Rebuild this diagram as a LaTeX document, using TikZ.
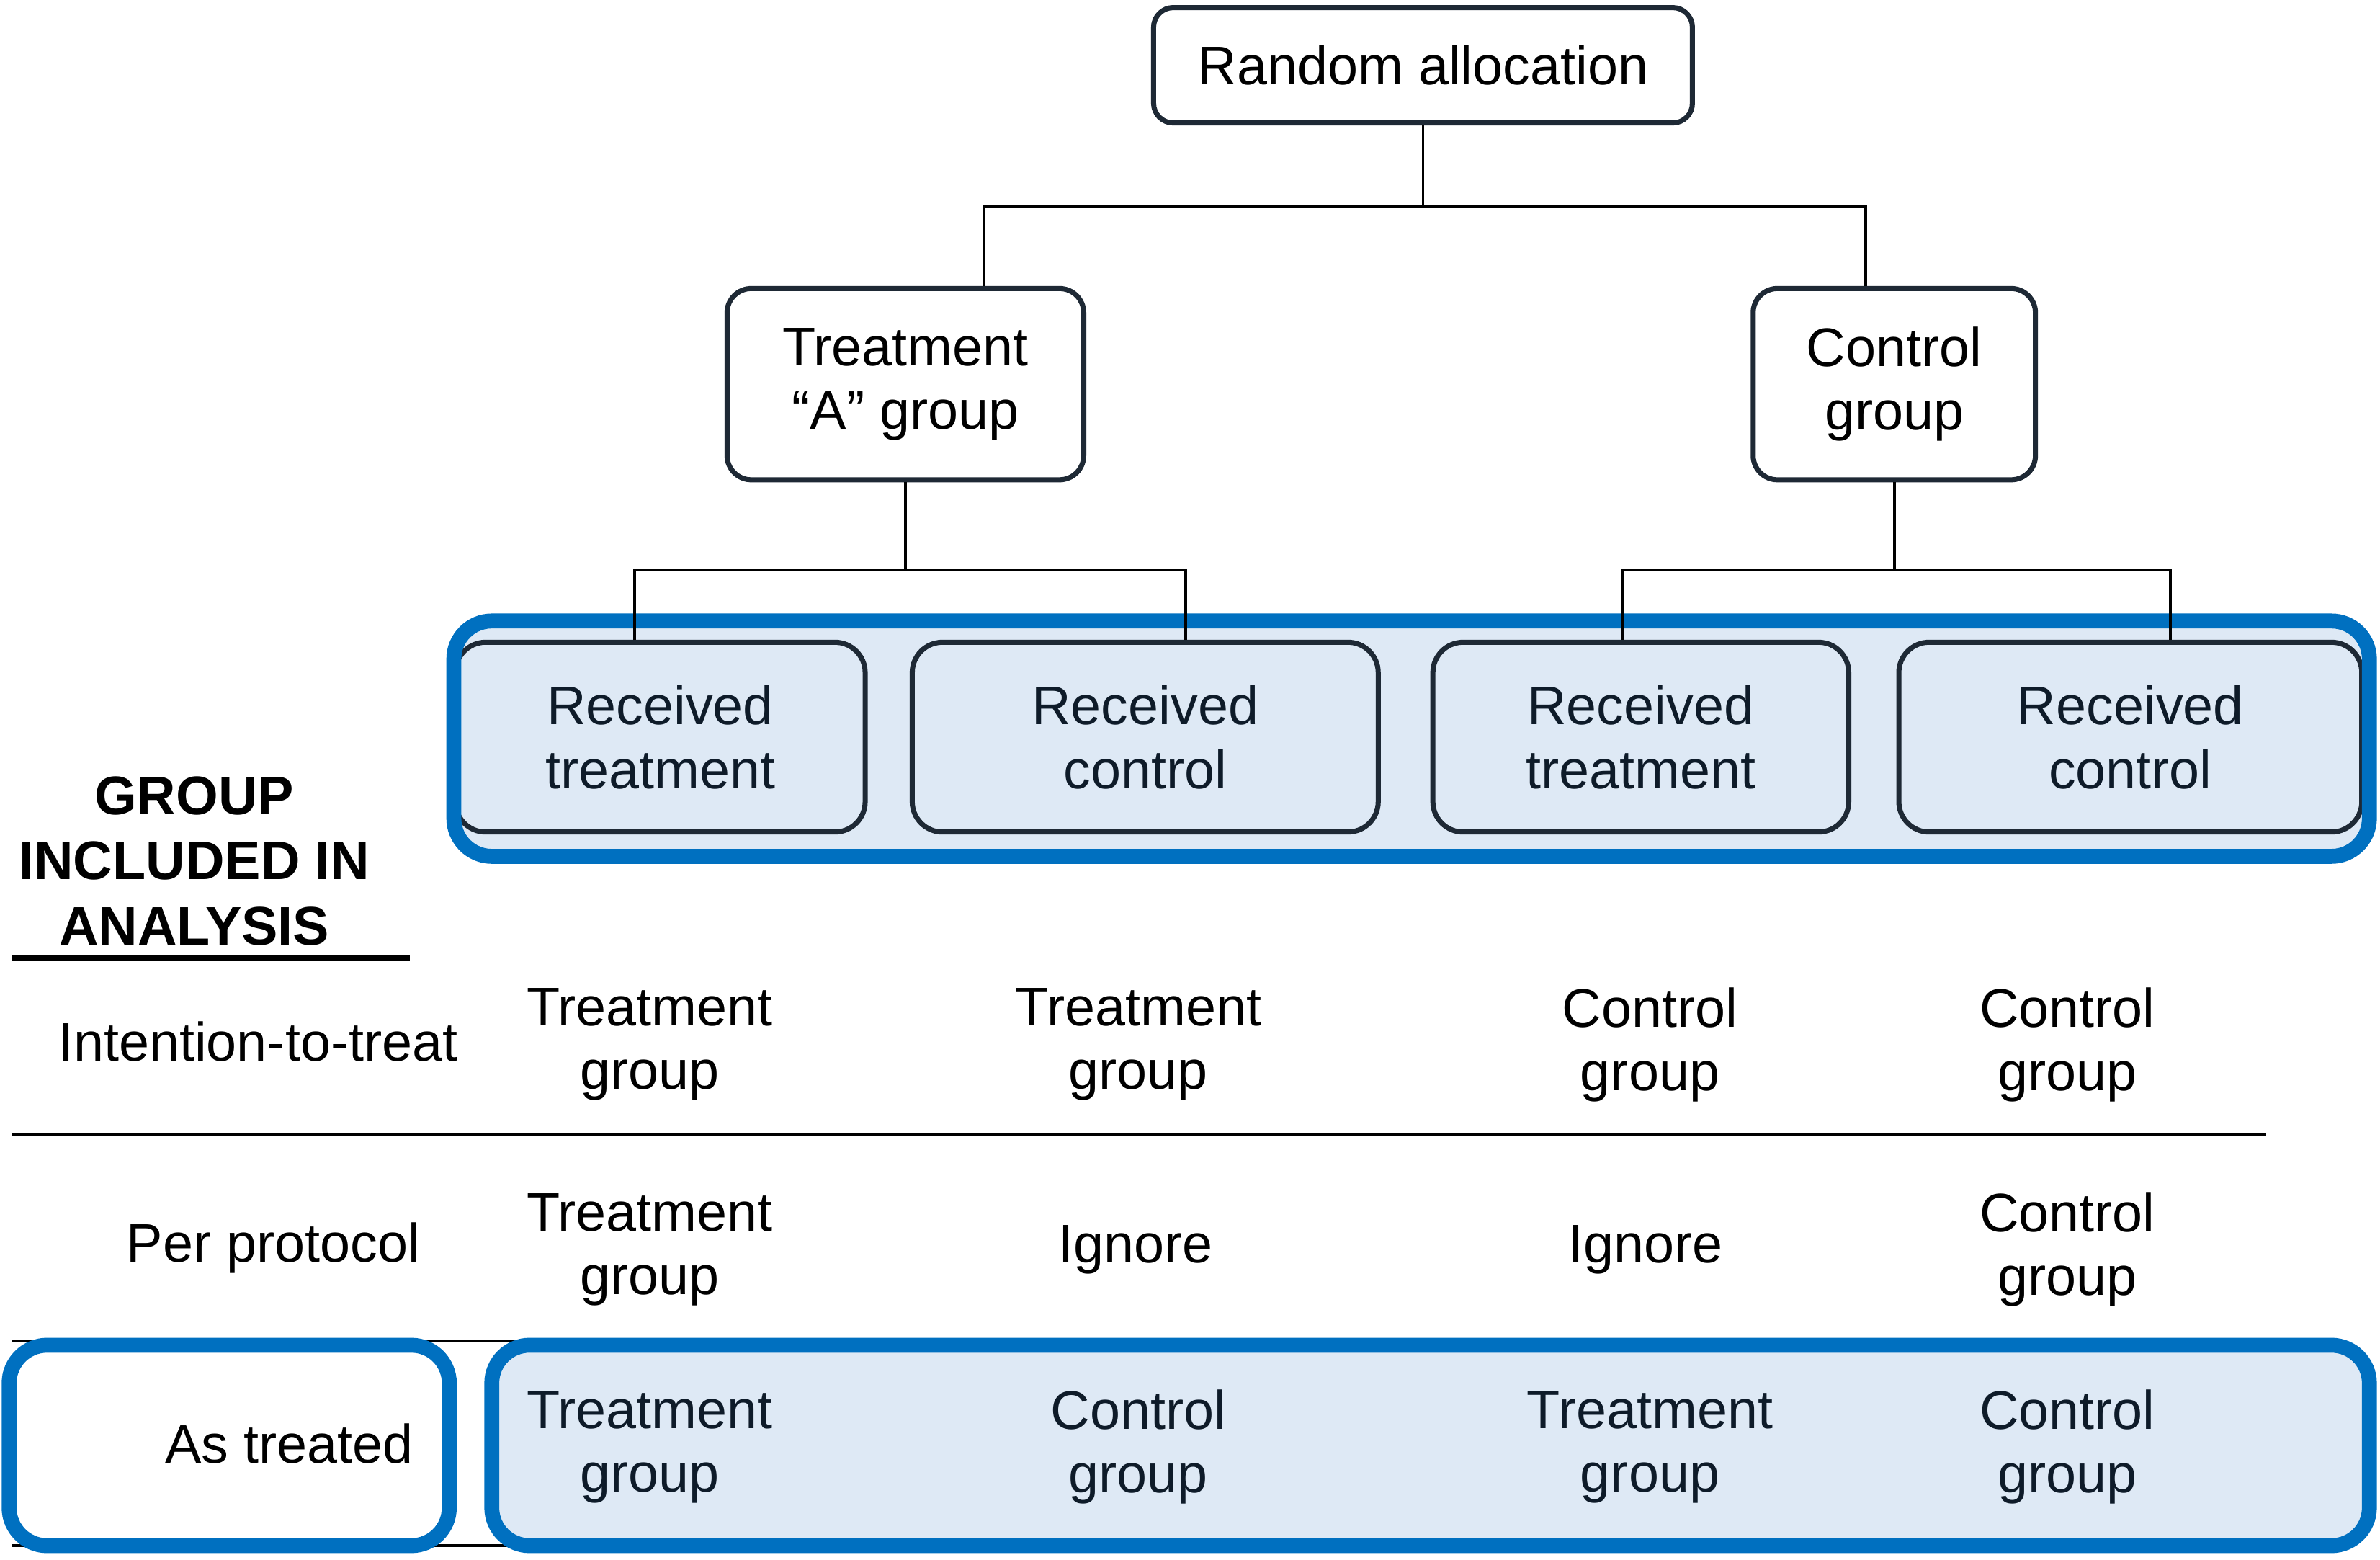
\documentclass[tikz,border=0pt]{standalone}
\usepackage{fontspec}
\setmainfont{Liberation Sans}
\usetikzlibrary{calc}
\definecolor{allocblue}{HTML}{0070C0}
\definecolor{allocfill}{HTML}{DEE9F5}
\definecolor{boxline}{HTML}{1E2935}
\definecolor{boxtext}{HTML}{0E1B29}
\tikzset{
  txt/.style={font=\fontsize{10.2}{11.9}\selectfont, align=center, inner sep=0pt},
  box/.style={txt, draw=boxline, line width=0.95pt, rounded corners=0.13cm},
  recbox/.style={box, rounded corners=0.2cm, minimum height=1.25cm, text=boxtext},
  link/.style={line width=0.5pt},
  bluebox/.style={draw=allocblue, line width=2.8pt, rounded corners=0.25cm},
  rule/.style={line width=0.5pt}
}
\begin{document}
\begin{tikzpicture}[x=0.1mm, y=-0.1mm]
\useasboundingbox (0,0) rectangle (1568,1027);
% table rules
\draw[rule] (8,747) -- (1493,747);
\draw[rule] (8,883) -- (1493,883);
\draw[rule] (8,1018) -- (1493,1018);
% blue backgrounds
\fill[allocfill, rounded corners=0.25cm] (299,409) rectangle (1561,564);
\fill[allocfill, rounded corners=0.25cm] (324,886) rectangle (1561,1018);
\fill[white, rounded corners=0.25cm] (6,886) rectangle (296,1018);
% tree
\node[box, minimum width=3.55cm, minimum height=0.76cm] (rand) at (937.5,43) {Random allocation};
\node[box, rounded corners=0.16cm, minimum width=2.35cm, minimum height=1.26cm] (trtA) at (596.5,253) {Treatment\\“A” group};
\node[box, rounded corners=0.16cm, minimum width=1.86cm, minimum height=1.26cm] (ctrl) at (1248,253) {Control\\group};
\node[recbox, minimum width=2.70cm] (rt1) at (435,485.5) {Received\\treatment};
\node[recbox, minimum width=3.07cm] (rc1) at (754.5,485.5) {Received\\control};
\node[recbox, minimum width=2.74cm] (rt2) at (1081,485.5) {Received\\treatment};
\node[recbox, minimum width=3.05cm] (rc2) at (1403.5,485.5) {Received\\control};
% blue frames
\draw[bluebox] (299,409) rectangle (1561,564);
\draw[bluebox] (324,886) rectangle (1561,1018);
\draw[bluebox] (6,886) rectangle (296,1018);
% connectors
\draw[link] (rand.south) -- ++(0,53) -| ($(trtA.north)+(51.5,0)$);
\draw[link] (rand.south) -- ++(0,53) -| ($(ctrl.north)+(-19,0)$);
\draw[link] (trtA.south) -- ++(0,58) -| ($(rt1.north)+(-17,0)$);
\draw[link] (trtA.south) -- ++(0,58) -| ($(rc1.north)+(26.5,0)$);
\draw[link] (ctrl.south) -- ++(0,58) -| ($(rt2.north)+(-12,0)$);
\draw[link] (ctrl.south) -- ++(0,58) -| ($(rc2.north)+(26.5,0)$);
% heading
\node[txt, font=\fontsize{10.2}{12.2}\selectfont\bfseries] (head) at (128,567) {GROUP\\INCLUDED IN\\ANALYSIS};
\draw[line width=1.1pt] (8,631) -- (270,631);
% row labels
\node[txt] (itt) at (170,686) {Intention-to-treat};
\node[txt] (pp) at (180,822) {Per protocol};
\node[txt, anchor=east] (at) at (273,951) {As treated};
% intention-to-treat row
\node[txt] (itt1) at (428,688) {Treatment\\group};
\node[txt] (itt2) at (750,688) {Treatment\\group};
\node[txt] (itt3) at (1087,688) {Control\\group};
\node[txt] (itt4) at (1362,688) {Control\\group};
% per protocol row
\node[txt] (pp1) at (428,823) {Treatment\\group};
\node[txt] (pp2) at (748,823) {Ignore};
\node[txt] (pp3) at (1084,823) {Ignore};
\node[txt] (pp4) at (1362,823) {Control\\group};
% as treated row
\node[txt, text=boxtext] (at1) at (428,953) {Treatment\\group};
\node[txt, text=boxtext] (at2) at (750,953) {Control\\group};
\node[txt, text=boxtext] (at3) at (1087,953) {Treatment\\group};
\node[txt, text=boxtext] (at4) at (1362,953) {Control\\group};
\end{tikzpicture}
\end{document}
